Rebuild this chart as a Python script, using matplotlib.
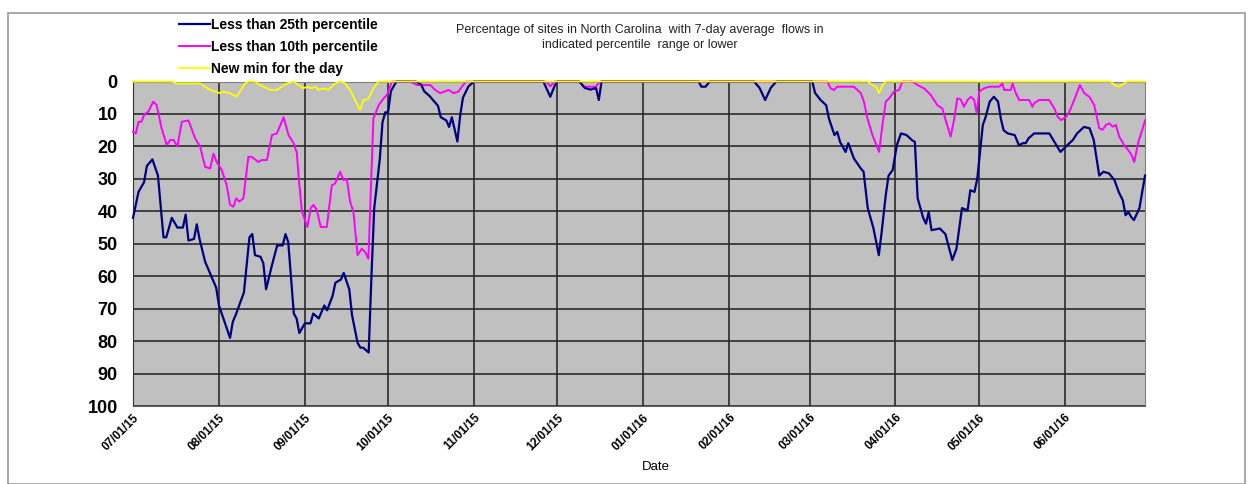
import matplotlib
matplotlib.use("Agg")
import matplotlib.pyplot as plt
import matplotlib.dates as mdates
from matplotlib.patches import Rectangle
from datetime import datetime, timedelta

plt.rcParams["font.family"] = ["Liberation Sans", "DejaVu Sans"]

START = datetime(2015, 7, 1)
END = datetime(2016, 6, 30)

# days since 07/01/15 and percentage of sites
p25_days = [0, 2, 4, 5, 7, 9, 11, 12, 14, 16, 18, 19, 20, 22, 23, 24, 26, 28, 30, 31,
            33, 35, 36, 37, 40, 42, 43, 44, 46, 47, 48, 50, 52, 54, 55, 56, 58, 59, 60, 62,
            64, 65, 67, 69, 70, 72, 73, 75, 76, 78, 79, 81, 82, 83, 85, 86, 87, 89, 90, 91,
            92, 93, 95, 102, 104, 105, 107, 110, 111, 113, 114, 115, 117, 118, 119, 121, 123,
            148, 150.5, 152, 153, 161, 163, 165, 167, 168, 169, 204, 205, 206.5, 208,
            224, 226, 228, 230, 232, 245, 246, 248, 250, 251, 253, 254, 255, 257, 258, 260,
            262.5, 263.5, 265, 267, 269, 270, 271.5, 272.5, 274, 275.5, 277, 279, 281, 282,
            283, 285, 286, 287, 288, 291, 293, 295.5, 297, 299, 301, 302, 303.5, 304.5,
            306.5, 307.5, 309, 310.5, 312, 313, 314, 315.5, 318, 319.5, 321, 322, 323, 325,
            330.5, 333, 334.5, 337, 339, 340.5, 343, 345, 346.5, 348.5, 350, 352, 354, 355.5,
            357, 358, 359, 360, 361, 363, 365]
p25_vals = [42, 34, 31, 26, 24, 29, 48, 48, 42, 45, 45, 41, 49, 48.5, 44, 48.5, 55.5, 59.5, 63.5, 69,
            74, 79, 74, 72, 65, 48, 47, 53.5, 54, 56, 64, 57, 50.5, 50.5, 47, 49.5, 71.5, 73, 77.5, 74.5,
            74.5, 71.5, 73, 69, 70.5, 66, 62, 61, 59, 64, 72, 80.5, 82, 82, 83.5, 60, 39, 24, 12.5, 9.5,
            9.5, 3, 0, 0, 1, 3, 4.5, 7.5, 11, 12, 14, 11, 18.5, 10.5, 5, 1.5, 0,
            0, 4.7, 1.5, 0, 0, 2, 2.5, 2, 5.7, 0, 0, 1.6, 1.6, 0,
            0, 2, 5.7, 2, 0, 0, 3.5, 5.7, 7.3, 11.4, 16.5, 15.5, 18.6, 21.7, 19, 23.7,
            26.8, 27.8, 39, 45, 53.5, 46.5, 35, 29, 27.3, 19.6, 16, 16.5, 18.1, 18.6,
            36, 42, 43.8, 40.2, 45.8, 45.3, 47, 55, 51.5, 39, 39.7, 33.5, 34, 30,
            13.4, 11, 6.2, 4.7, 6.2, 11.4, 15, 16, 16.5, 19.6, 19, 19, 17.5, 16,
            16, 19.6, 21.7, 19.6, 18, 16, 14, 14.4, 18, 29, 27.8, 28.3, 30.4, 34,
            36.6, 41.2, 40.2, 41.7, 42.7, 39, 29]

p10_days = [0, 1, 2, 3, 4, 5.5, 7.3, 8.5, 10.3, 12.2, 13.4, 14.6, 16, 17.6, 20, 22.4, 24.2, 26,
            27.8, 29, 30.2, 32, 33.8, 35, 36.2, 37.2, 38.4, 39.8, 41.6, 42.8, 45.2, 46.4, 48.3,
            50.1, 51.9, 54.3, 56.1, 57.9, 59.1, 59.7, 60.9, 62.9, 64.1, 65.1, 66.3, 67.7, 69.9,
            71.7, 72.9, 74.7, 75.9, 77.1, 78.3, 79.5, 81, 82.5, 83.7, 84.9, 86.2, 86.7, 88.6,
            90.4, 91.6, 93.4, 100, 102.4, 107.2, 109, 110.8, 113.8, 115.6, 117.4, 118.6, 120.2,
            149, 150.5, 152, 161, 162.5, 166.8, 168.6, 250.4, 251.6, 252.8, 254, 260, 262.5,
            263.6, 264.9, 266.7, 269.1, 270.3, 271.5, 272.7, 274.5, 276.3, 277.5, 281, 283,
            285.3, 287.7, 290.1, 291.9, 293.1, 294.9, 296.1, 297.3, 298.5, 299.7, 301, 302.2,
            303.4, 304.3, 305.2, 307, 308.8, 312.4, 313.6, 314.2, 316.6, 317.2, 318.4, 319.6,
            323.2, 324.4, 325, 326.8, 330.4, 332.3, 333.5, 334.7, 336.5, 337.7, 339.7, 341.5,
            343.1, 344.9, 346.7, 348.5, 349.7, 350.9, 352.1, 353.3, 354.5, 355.7, 357.5, 359.9,
            361.1, 362.6, 364.2, 365]
p10_vals = [15.5, 16, 12.4, 12.4, 10.3, 9.3, 6.2, 7.2, 14.4, 19.6, 18, 18, 20, 12.4, 12, 17.5, 20, 26.3,
            26.8, 22.2, 24.8, 27.3, 32, 38, 38.6, 36, 37, 36, 23.2, 23.2, 24.8, 24.2, 24.2,
            16.5, 16, 11, 16.5, 19, 22, 29, 40, 44.8, 39, 38, 39.6, 44.8, 44.8,
            32, 31.4, 27.8, 30.4, 30, 37, 40.2, 53.5, 51.5, 52.5, 54.6, 23.7, 11.4, 7.3,
            5.2, 4.1, 0, 0, 1.1, 1.1, 2.6, 3.6, 2.6, 3.6, 3.1, 1.6, 0,
            0, 1.5, 0, 0, 1.6, 1.6, 0, 0, 2.1, 2.6, 1.6, 1.6, 3.6,
            6.2, 11.4, 16.5, 21.7, 13.4, 6.2, 5.2, 3.1, 2.6, 0, 0, 1.1,
            2.1, 4.1, 7.3, 8.3, 11.9, 17, 11.9, 5.2, 5.5, 7.8, 5.7, 4.7,
            5.7, 9.8, 3.1, 2.1, 1.6, 1.6, 0.6, 2.6, 2.6, 0.6, 3.6, 5.7,
            5.7, 7.8, 6.7, 5.7, 5.7, 8.3, 10.9, 11.9, 10.9, 9.3, 5.2, 1.1,
            3.6, 4.7, 7.3, 14.4, 14.9, 13.4, 12.9, 13.9, 13.4, 17, 19.6, 22.2,
            24.8, 18.6, 14.4, 12]

newmin_days = [0, 14, 15.8, 24.2, 27.8, 31.4, 32.6, 35, 37.4, 40.4, 41.6, 44, 45.8, 49.5, 51.9,
               55.5, 57.9, 59.7, 61.5, 62.7, 64.5, 65.7, 66.9, 68.7, 70.5, 72.9, 74.7, 76.5,
               78.3, 80.1, 81.9, 83.1, 84.9, 86.7, 88.6, 265, 266.7, 268, 269.1, 270.3, 271.5,
               352.7, 353.9, 355.7, 357.5, 358.5, 365]
newmin_vals = [0, 0, 0.6, 0.6, 2.6, 3.6, 3.1, 3.6, 4.7, 0.6, 0, 0, 1.1, 2.6, 2.6,
               0.6, 0, 1.1, 2.1, 1.6, 2.1, 1.6, 2.6, 2.1, 2.6, 0.6, 0, 0.6,
               2.6, 5.7, 8.8, 5.7, 5.4, 2.1, 0, 0, 1.1, 1.6, 3.6, 1.1, 0,
               0, 1.1, 1.6, 0.6, 0, 0]

labels = ["Less than 25th percentile", "Less than 10th percentile", "New min for the day"]
colors = ["#000080", "#FF00FF", "#FFFF00"]


def toDates(days):
    return [START + timedelta(days=d) for d in days]


fig = plt.figure(figsize=(12.5, 4.84), dpi=100)
ax = fig.add_axes([0.1064, 0.161, 0.8096, 0.6706])
ax.set_facecolor("#C0C0C0")

ax.plot(toDates(p25_days), p25_vals, color=colors[0], lw=1.6, label=labels[0], clip_on=False, zorder=4)
ax.plot(toDates(p10_days), p10_vals, color=colors[1], lw=1.4, label=labels[1], clip_on=False, zorder=3)
ax.plot(toDates(newmin_days), newmin_vals, color=colors[2], lw=1.3, label=labels[2], clip_on=False, zorder=5)

ax.set_ylim(100, 0)
ax.set_yticks(range(0, 101, 10))
ax.set_xlim(START, END)
ax.xaxis.set_major_locator(mdates.MonthLocator())
ax.xaxis.set_major_formatter(mdates.DateFormatter("%m/%d/%y"))
ax.grid(True, color="#2a2a2a", lw=1.2)
ax.set_axisbelow(True)

for lbl in ax.get_yticklabels():
    lbl.set_fontweight("bold")
    lbl.set_fontsize(13)
ax.tick_params(axis="y", length=0, pad=11)
ax.tick_params(axis="x", length=0, pad=4)
for lbl in ax.get_xticklabels():
    lbl.set_fontweight("bold")
    lbl.set_fontsize(8.5)
    lbl.set_rotation(45)
    lbl.set_ha("right")
    lbl.set_rotation_mode("anchor")

for s in ["top", "right"]:
    ax.spines[s].set_color("#808080")
ax.spines["left"].set_color("#333333")
ax.spines["bottom"].set_color("#666666")

ax.set_xlabel("Date", fontsize=9.5)
ax.xaxis.set_label_coords(0.517, -0.17)

fig.text(0.512, 0.922, "Percentage of sites in North Carolina  with 7-day average  flows in\nindicated percentile  range or lower",
         ha="center", va="center", fontsize=9, color="#222222", linespacing=1.3)

fig.legend(loc="upper left", bbox_to_anchor=(0.139, 0.975), frameon=False,
           prop={"weight": "bold", "size": 10}, handlelength=2.2, handletextpad=0.1,
           labelspacing=0.6, borderaxespad=0)

fig.patches.append(Rectangle((0.006, 0.0), 0.99, 0.973, transform=fig.transFigure,
                             fill=False, edgecolor="#999999", lw=1.2))

fig.savefig("out.png", dpi=100)
